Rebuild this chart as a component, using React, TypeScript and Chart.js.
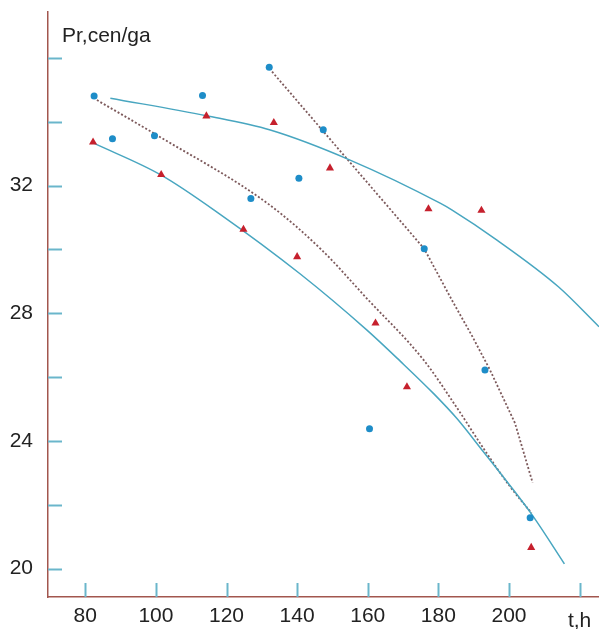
import React, { useEffect, useRef } from 'react';
import { Chart, registerables } from 'chart.js';

Chart.register(...registerables);

// Observed points (blue dots)
const blueX = [82.5, 87.7, 99.6, 113.2, 132.1, 126.9, 140.5, 147.4, 160.5, 176.0, 193.2, 206.0];
const blueY = [34.81, 33.47, 33.56, 34.82, 35.71, 31.6, 32.23, 33.75, 24.38, 30.02, 26.22, 21.59];
// Observed points (red triangles)
const redX = [82.2, 101.5, 114.3, 124.8, 133.4, 140.0, 149.3, 162.2, 171.1, 177.2, 192.2, 206.3];
const redY = [33.36, 32.34, 34.18, 30.63, 33.97, 29.77, 32.55, 27.69, 25.69, 31.27, 31.22, 20.66];
// Solid fitted curves
const upperFitX = [87.1, 114.3, 132.4, 155.0, 180.5, 183.8, 196.5, 214.0, 225.5];
const upperFitY = [34.74, 34.19, 33.74, 32.8, 31.45, 31.24, 30.3, 28.83, 27.58];
const lowerFitX = [82.4, 101.5, 118.2, 140.9, 159.7, 169.2, 178.6, 185.2, 192.7, 199.4, 206.9, 215.7];
const lowerFitY = [33.33, 32.33, 31.1, 29.23, 27.48, 26.5, 25.49, 24.71, 23.67, 22.73, 21.63, 20.15];
// Dotted trend lines
const midTrendX = [83.3, 100.3, 131.9, 147.0, 159.7, 175.8, 185.2, 192.7, 200.3, 206.4];
const midTrendY = [34.68, 33.58, 31.42, 29.98, 28.47, 26.54, 25.05, 23.78, 22.57, 21.74];
const steepTrendX = [132.9, 176.0, 183.8, 189.5, 194.6, 201.7, 206.7];
const steepTrendY = [35.57, 30.02, 28.42, 27.3, 26.23, 24.56, 22.69];

// Axes
const xTicks = [80, 100, 120, 140, 160, 180, 200, 220];
const xTickLabels = ['80', '100', '120', '140', '160', '180', '200', ''];
const yTicks = [20, 22, 24, 26, 28, 30, 32, 34, 36];
const yLabelled = [20, 24, 28, 32];
const yTitle = 'Pr,cen/ga';
const xTitle = 't,h';

const pts = (xs: number[], ys: number[]) => xs.map((x, i) => ({ x, y: ys[i] }));

const FONT = '"Liberation Sans", Arial, Helvetica, sans-serif';

const decor = {
  id: 'decor',
  afterDraw(chart: any) {
    const { ctx, chartArea, scales } = chart;
    ctx.save();
    ctx.strokeStyle = '#6ab6cb';
    ctx.lineWidth = 2;
    scales.y.ticks.forEach((t: any) => {
      const py = Math.round(scales.y.getPixelForValue(t.value)) + 0.5;
      ctx.beginPath();
      ctx.moveTo(chartArea.left, py);
      ctx.lineTo(chartArea.left + 14, py);
      ctx.stroke();
    });
    scales.x.ticks.forEach((t: any) => {
      const px = Math.round(scales.x.getPixelForValue(t.value)) + 0.5;
      ctx.beginPath();
      ctx.moveTo(px, chartArea.bottom);
      ctx.lineTo(px, chartArea.bottom - 14);
      ctx.stroke();
    });
    ctx.fillStyle = '#222';
    ctx.font = `21px ${FONT}`;
    ctx.textAlign = 'left';
    ctx.textBaseline = 'alphabetic';
    ctx.fillText(yTitle, chartArea.left + 14, 42);
    ctx.textAlign = 'center';
    ctx.fillText(xTitle, scales.x.getPixelForValue(220), 627);
    ctx.restore();
  },
};

export default function App() {
  const ref = useRef<HTMLCanvasElement>(null);
  useEffect(() => {
    if (!ref.current) return;
    const line = (xs: number[], ys: number[], dotted: boolean, smooth: boolean) => ({
      type: 'line' as const,
      data: pts(xs, ys),
      borderColor: dotted ? '#7d5a5c' : '#48a6c0',
      borderWidth: dotted ? 1.8 : 1.5,
      borderDash: dotted ? [2, 2] : [],
      pointRadius: 0,
      showLine: true,
      fill: false,
      tension: 0,
      cubicInterpolationMode: smooth ? ('monotone' as const) : ('default' as const),
      order: 2,
    });
    const chart = new Chart(ref.current, {
      type: 'scatter',
      data: {
        datasets: [
          {
            data: pts(blueX, blueY),
            pointStyle: 'circle',
            pointRadius: 3.5,
            backgroundColor: '#1e8dc8',
            borderColor: '#1e8dc8',
            borderWidth: 0,
            order: 0,
          },
          {
            data: pts(redX, redY),
            pointStyle: 'triangle',
            pointRadius: 4.7,
            backgroundColor: '#c6202d',
            borderColor: '#c6202d',
            borderWidth: 0,
            order: 0,
          },
          line(upperFitX, upperFitY, false, true),
          line(lowerFitX, lowerFitY, false, true),
          line(midTrendX, midTrendY, true, true),
          line(steepTrendX, steepTrendY, true, false),
        ] as any,
      },
      options: {
        responsive: false,
        animation: false,
        layout: { autoPadding: false, padding: { top: 12, left: 0, right: 0, bottom: 0 } },
        plugins: { legend: { display: false }, tooltip: { enabled: false } },
        scales: {
          x: {
            type: 'linear',
            min: 69.44,
            max: 225.5,
            afterBuildTicks: (s: any) => {
              s.ticks = xTicks.map((v) => ({ value: v }));
            },
            afterFit: (s: any) => {
              s.height = 32;
              s.paddingLeft = 0;
              s.paddingRight = 0;
            },
            grid: { display: true, drawOnChartArea: false, drawTicks: false },
            border: { display: true, color: '#a2564e', width: 1.5 },
            ticks: {
              padding: 7,
              color: '#222',
              font: { family: FONT, size: 21 },
              maxRotation: 0,
              autoSkip: false,
              callback: (v: any) => {
                const i = xTicks.indexOf(Number(v));
                return i >= 0 ? xTickLabels[i] : '';
              },
            },
          },
          y: {
            type: 'linear',
            min: 19.11,
            max: 37.44,
            afterBuildTicks: (s: any) => {
              s.ticks = yTicks.map((v) => ({ value: v }));
            },
            afterFit: (s: any) => {
              s.width = 48;
              s.paddingTop = 0;
              s.paddingBottom = 0;
            },
            grid: { display: true, drawOnChartArea: false, drawTicks: false },
            border: { display: true, color: '#a2564e', width: 1.5 },
            ticks: {
              padding: 15,
              color: '#222',
              font: { family: FONT, size: 21 },
              autoSkip: false,
              callback: (v: any) => (yLabelled.includes(Number(v)) ? String(v) : ''),
            },
          },
        },
      },
      plugins: [decor],
    });
    return () => chart.destroy();
  }, []);
  return (
    <div style={{ position: 'fixed', left: 0, top: 0, width: 599, height: 629, background: '#fff' }}>
      <canvas ref={ref} width={599} height={629} />
    </div>
  );
}
